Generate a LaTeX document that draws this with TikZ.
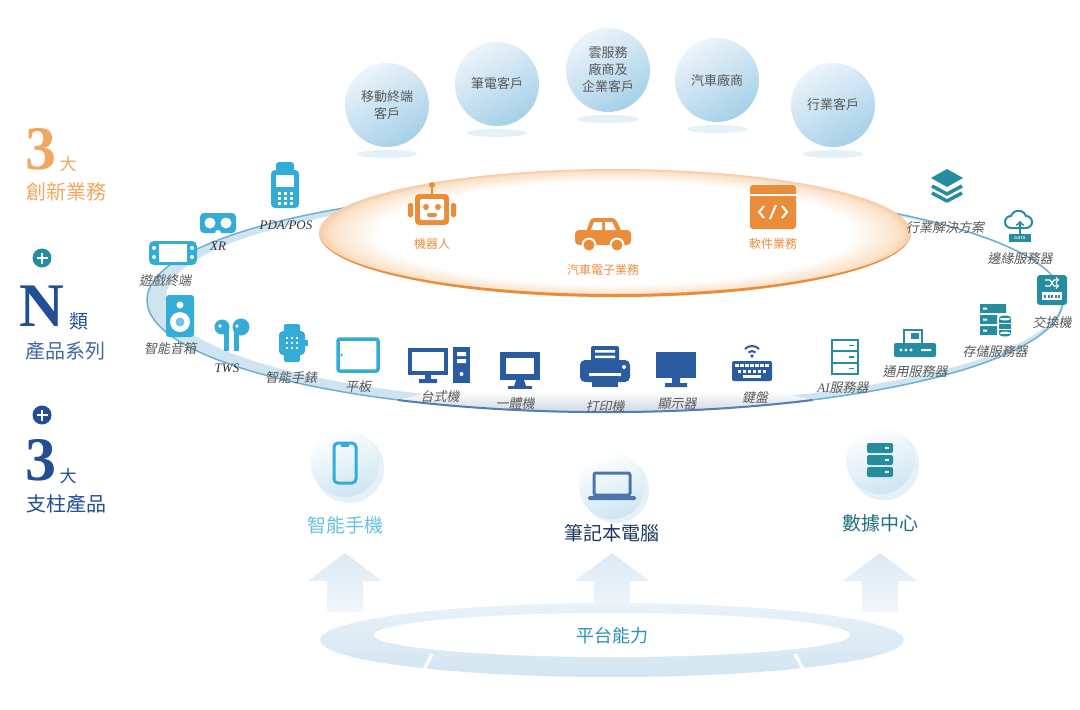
\documentclass[tikz,border=0pt]{standalone}
\usepackage{fontspec}
\setmainfont{Liberation Serif}
\newfontfamily\cjk{Noto Sans CJK TC}
\newfontfamily\cjkit{Noto Sans CJK TC}[FakeSlant=0.2]
\usepackage{xcolor}
\usepackage{tikz}
\usetikzlibrary{shapes.geometric, arrows, positioning}

\definecolor{devcyan}{RGB}{52,172,216}
\definecolor{devnavy}{RGB}{44,92,160}
\definecolor{devteal}{RGB}{38,140,160}
\definecolor{bizorange}{RGB}{234,140,58}
\definecolor{bizpeach}{RGB}{250,226,200}
\definecolor{bigorange}{RGB}{240,168,96}
\definecolor{navytext}{RGB}{34,78,148}
\definecolor{labelgray}{RGB}{88,88,88}
\definecolor{bubtop}{RGB}{236,244,250}
\definecolor{bubbot}{RGB}{166,208,232}
\definecolor{ringblue}{RGB}{110,175,210}
\definecolor{ringpale}{RGB}{206,228,240}
\definecolor{stripgray}{RGB}{196,208,224}
\definecolor{palearrow}{RGB}{220,234,245}
\definecolor{plateblue}{RGB}{210,229,242}

\pgfdeclareradialshading{orangerim}{\pgfpoint{0bp}{0bp}}{color(0bp)=(white); color(20bp)=(white); color(24bp)=(bizpeach); color(25bp)=(bizorange!45); color(50bp)=(bizorange!45)}

\begin{document}
\begin{tikzpicture}[x=1pt, y=-1pt]
\tikzstyle{client} = [circle, minimum size=84pt, inner sep=0pt, top color=bubtop, bottom color=bubbot, shading angle=30, align=center, text=labelgray, font=\cjk\fontsize{13}{17}\selectfont]
\tikzstyle{devlabel} = [font=\cjkit\fontsize{13}{15}\selectfont, text=labelgray, inner sep=1pt]
\tikzstyle{latlabel} = [font=\itshape\fontsize{13}{15}\selectfont, text=labelgray!60!black, inner sep=1pt]
\tikzstyle{bizlabel} = [font=\cjk\fontsize{12}{14}\selectfont, text=bizorange]
\tikzstyle{hub} = [circle, minimum size=68pt, inner sep=0pt, top color=white, bottom color=bubbot!55, shading angle=20]
\tikzstyle{hublabel} = [font=\cjk\fontsize{19}{22}\selectfont]
\tikzstyle{plus} = [circle, minimum size=19pt, inner sep=0pt]
\tikzstyle{bignum} = [font=\bfseries\fontsize{62}{62}\selectfont, inner sep=0pt]
\tikzstyle{bigcap} = [font=\cjk\fontsize{20}{22}\selectfont, inner sep=0pt]

\useasboundingbox (0,0) rectangle (1080,710);
\fill[white] (0,0) rectangle (1080,710);

\fill[ringpale, even odd rule] (605,300) ellipse [x radius=458, y radius=112] (614,298) ellipse [x radius=448, y radius=106];
\draw[ringblue, line width=1.5pt] (605,300) ellipse [x radius=458, y radius=112];
\shade[top color=white, bottom color=stripgray] (398,400) .. controls (430,392) .. (470,391) -- (740,391) .. controls (780,392) .. (812,400) arc[start angle=63.1, end angle=116.9, x radius=458, y radius=112] -- cycle;
\draw[devnavy!80, line width=2pt] (398,400) arc[start angle=116.9, end angle=63.1, x radius=458, y radius=112];

\shade[shading=orangerim] (615,233) ellipse [x radius=296, y radius=64];
\fill[bizorange] (319,233) arc[start angle=180, end angle=0, x radius=296, y radius=64] arc[start angle=0, end angle=180, x radius=296, y radius=61] -- cycle;

\foreach \x/\y in {387/105, 497/84, 608/70, 717/80, 833/105}
  \fill[bubbot!30] (\x,\y+49) ellipse [x radius=30, y radius=4];
\node[client] (cmobile) at (387,105) {移動終端\\客戶};
\node[client] (cnotebook) at (497,84) {筆電客戶};
\node[client] (ccloud) at (608,70) {雲服務\\廠商及\\企業客戶};
\node[client] (cauto) at (717,80) {汽車廠商};
\node[client] (cindustry) at (833,105) {行業客戶};

\begin{scope}[shift={(432,210)}]
\draw[bizorange, line width=2pt] (0,-24)--(0,-15);
\fill[bizorange] (0,-25) circle (3);
\fill[bizorange, rounded corners=4pt] (-17,-16) rectangle (17,15);
\fill[bizorange, rounded corners=1.5pt] (-24,-7) rectangle (-19,7) (19,-7) rectangle (24,7);
\fill[white, rounded corners=2pt] (-12,-11) rectangle (12,10);
\fill[bizorange] (-6,-3) circle (3) (6,-3) circle (3);
\fill[bizorange, rounded corners=1.5pt] (-5,3) rectangle (5,7);
\end{scope}
\begin{scope}[shift={(603,233)}]
\fill[bizorange, rounded corners=3pt] (-17,-1) -- (-12,-15) -- (12,-15) -- (19,-1) -- cycle;
\fill[bizorange, rounded corners=4pt] (-28,-3) rectangle (28,12);
\fill[white] (-12,-3) -- (-9,-11) -- (-1,-11) -- (-1,-3) -- cycle;
\fill[white] (2,-3) -- (2,-11) -- (9,-11) -- (13,-3) -- cycle;
\fill[white] (-14,12) circle (7.5) (14,12) circle (7.5);
\fill[bizorange] (-14,12) circle (5.5) (14,12) circle (5.5);
\end{scope}
\begin{scope}[shift={(773,207)}]
\fill[bizorange, rounded corners=3pt] (-23,-22) rectangle (23,22);
\draw[white, line width=2pt] (-23,-12)--(23,-12);
\draw[white, line width=2pt] (-9,-1)--(-14,5)--(-9,11) (9,-1)--(14,5)--(9,11) (3,-2)--(-3,12);
\end{scope}
\node[bizlabel] (lrobot) at (432,244) {機器人};
\node[bizlabel] (lautoelec) at (603,270) {汽車電子業務};
\node[bizlabel] (lsoftware) at (773,244) {軟件業務};

\begin{scope}[shift={(285,185)}]
\fill[devcyan, rounded corners=3pt] (-9,-23) rectangle (9,-12);
\fill[devcyan, rounded corners=4pt] (-14,-15) rectangle (14,23);
\fill[white] (-9,-10) rectangle (9,2);
\foreach \i in {-6,0,6} \foreach \j in {8,13,18}
  \fill[white] (\i-1.5,\j-1.5) rectangle (\i+1.5,\j+1.5);
\end{scope}
\begin{scope}[shift={(218,223)}]
\fill[devcyan, rounded corners=4pt] (-18,-10) rectangle (18,10);
\fill[white] (-8,0) circle (5.5) (8,0) circle (5.5) (0,10) circle (3);
\end{scope}
\begin{scope}[shift={(173,253)}]
\fill[devcyan, rounded corners=5pt] (-24,-12) rectangle (24,12);
\fill[white] (-14,-9) rectangle (14,9);
\fill[white] (-19,-5) circle (2) (-19,4) circle (2) (19,-5) circle (2) (19,4) circle (2);
\end{scope}
\begin{scope}[shift={(180,316)}]
\fill[devcyan, rounded corners=3pt] (-14,-21) rectangle (14,21);
\fill[white] (0,-11) circle (3.5) (0,6) circle (10);
\fill[devcyan!70] (0,6) circle (4.5);
\end{scope}
\begin{scope}[shift={(232,336)}]
\fill[devcyan] (-10,-9) circle (7.5);
\fill[devcyan] (-8,-9) rectangle (-3,15);
\fill[white] (-12,-10) circle (1.8);
\fill[devcyan] (9,-9) circle (8.5);
\fill[devcyan] (2,-9) rectangle (7,15);
\fill[white] (5,-10) circle (1.8);
\end{scope}
\begin{scope}[shift={(292,343)}]
\fill[devcyan, rounded corners=2pt] (-8,-19) rectangle (8,19);
\fill[devcyan, rounded corners=4pt] (-13,-12) rectangle (13,12);
\fill[devcyan] (13,-3) rectangle (16,3);
\foreach \i in {-5,0,5} \foreach \j in {-5,0,5}
  \fill[white] (\i-1.4,\j-1.4) rectangle (\i+1.4,\j+1.4);
\end{scope}
\begin{scope}[shift={(358,355)}]
\draw[devcyan, line width=3.5pt, rounded corners=2pt] (-20,-16) rectangle (20,16);
\fill[devcyan] (-16.5,0) circle (1.3);
\end{scope}

\begin{scope}[shift={(440,365)}]
\draw[devnavy, line width=4pt] (-30,-15) rectangle (6,8);
\fill[devnavy] (-15,10) rectangle (-9,15) (-21,14) rectangle (-3,18);
\fill[devnavy] (13,-18) rectangle (30,18);
\fill[white] (17,-13) rectangle (26,-9) (17,-6) rectangle (26,-2) (21.5,9) circle (2);
\end{scope}
\begin{scope}[shift={(520,370)}]
\fill[devnavy] (-20,-18) rectangle (20,10);
\fill[white] (-14,-12) rectangle (14,4);
\fill[devnavy] (-4,10) -- (4,10) -- (6,16) -- (-6,16) -- cycle;
\fill[devnavy] (-12,16) rectangle (12,19);
\end{scope}
\begin{scope}[shift={(605,368)}]
\fill[devnavy, rounded corners=2pt] (-14,-22) rectangle (14,-6);
\fill[white] (-10,-18) rectangle (10,-15.5) (-10,-12.5) rectangle (10,-10);
\fill[devnavy, rounded corners=5pt] (-25,-8) rectangle (25,14);
\fill[white] (-16,5) rectangle (16,8) (19,-1) circle (2);
\fill[devnavy] (-13,8) rectangle (13,19);
\end{scope}
\begin{scope}[shift={(676,370)}]
\fill[devnavy] (-20,-18) rectangle (20,8);
\fill[devnavy] (-4,8) rectangle (4,14) (-11,13) rectangle (11,17);
\end{scope}
\begin{scope}[shift={(752,364)}]
\fill[devnavy] (0,-8) circle (1.8);
\draw[devnavy, line width=2pt] (-3.54,-11.54) arc[start angle=225, end angle=315, radius=5];
\draw[devnavy, line width=2pt] (-7.07,-15.07) arc[start angle=225, end angle=315, radius=10];
\fill[devnavy, rounded corners=2pt] (-20,-3) rectangle (20,17);
\foreach \i in {-15,-10,...,15} \fill[white] (\i-1.6,0) rectangle (\i+1.6,3);
\foreach \i in {-12.5,-7.5,...,12.5} \fill[white] (\i-1.6,5.5) rectangle (\i+1.6,8.5);
\fill[white] (-9,11) rectangle (9,13.5);
\end{scope}

\begin{scope}[shift={(845,357)}]
\draw[devteal, line width=2.5pt] (-13,-17) rectangle (13,17) (-13,-6)--(13,-6) (-13,6)--(13,6);
\draw[devteal, line width=1.5pt] (4,-11.5)--(9,-11.5) (4,0)--(9,0) (4,11.5)--(9,11.5);
\end{scope}
\begin{scope}[shift={(915,344)}]
\draw[devteal, line width=2.5pt] (-11,-14) rectangle (7,0);
\fill[devteal] (-4,-11) rectangle (4,-5);
\fill[devteal, rounded corners=2pt] (-21,-1) rectangle (21,13);
\fill[white] (-14,6) circle (1.6) (-9,6) circle (1.6) (-4,6) circle (1.6) (6,5) rectangle (16,7);
\end{scope}
\begin{scope}[shift={(995,320)}]
\fill[devteal] (-15,-16) rectangle (11,-7) (-15,-5) rectangle (2,4) (-15,6) rectangle (2,15);
\fill[white] (-12,-12.5) rectangle (-8,-10.5) (-12,-1.5) rectangle (-8,0.5) (-12,9.5) rectangle (-8,11.5);
\fill[devteal] (4,-2) rectangle (16,14) (10,-2) ellipse [x radius=6, y radius=2.5] (10,14) ellipse [x radius=6, y radius=2.5];
\draw[white, line width=1pt] (4,3.5)--(16,3.5) (4,9)--(16,9);
\end{scope}
\begin{scope}[shift={(1052,290)}]
\fill[devteal, rounded corners=3pt] (-15,-15) rectangle (15,15);
\draw[white, line width=1.2pt, ->] (-7,-10)--(-2,-10)--(2,-4)--(7,-4);
\draw[white, line width=1.2pt, ->] (-7,-4)--(-2,-4)--(2,-10)--(7,-10);
\fill[white] (-10,2) rectangle (10,10);
\foreach \i in {-8,-4.5,...,7} \fill[devteal] (\i,5) rectangle (\i+2,8);
\end{scope}
\begin{scope}[shift={(1020,226)}]
\draw[devteal, line width=2pt] (-9,2) arc[start angle=90, end angle=270, radius=6] arc[start angle=200, end angle=340, radius=8] arc[start angle=270, end angle=450, radius=6] -- cycle;
\draw[devteal, line width=2pt, ->] (0,8)--(0,-5);
\fill[devteal] (-11,8) rectangle (11,16);
\node[font=\sffamily\bfseries\fontsize{4}{4}\selectfont, text=white, inner sep=0pt] (edgedata) at (0,12) {DATA};
\end{scope}
\begin{scope}[shift={(947,187)}]
\fill[devteal] (0,-18) -- (16,-9) -- (0,0) -- (-16,-9) -- cycle;
\draw[devteal, line width=3.5pt, line join=round] (-15,-1)--(0,7)--(15,-1) (-15,6)--(0,14)--(15,6);
\end{scope}

\node[latlabel] (lpos) at (286,225) {PDA/POS};
\node[latlabel] (lxr) at (218,246) {XR};
\node[devlabel] (lgame) at (165,281) {遊戲終端};
\node[devlabel] (lspeaker) at (170,349) {智能音箱};
\node[latlabel] (ltws) at (227,368) {TWS};
\node[devlabel] (lwatch) at (291,378) {智能手錶};
\node[devlabel] (ltablet) at (358,387) {平板};
\node[devlabel] (ldesktop) at (440,397) {台式機};
\node[devlabel] (laio) at (515,404) {一體機};
\node[devlabel] (lprinter) at (605,407) {打印機};
\node[devlabel] (lmonitor) at (677,404) {顯示器};
\node[devlabel] (lkeyboard) at (755,398) {鍵盤};
\node[devlabel] (laiserver) at (843,388) {{\rmfamily\itshape AI}服務器};
\node[devlabel] (lgenserver) at (915,372) {通用服務器};
\node[devlabel] (lstorage) at (995,352) {存儲服務器};
\node[devlabel] (lswitch) at (1052,323) {交換機};
\node[devlabel] (ledge) at (1020,259) {邊緣服務器};
\node[devlabel] (lsolution) at (945,228) {行業解決方案};

\foreach \x in {345,612,880}
  \shade[top color=palearrow, bottom color=palearrow!40] (\x-18,612) -- (\x-18,581) -- (\x-37,581) -- (\x,553) -- (\x+37,581) -- (\x+18,581) -- (\x+18,612) -- cycle;
\shade[top color=plateblue!50, bottom color=plateblue] (612,640) ellipse [x radius=292, y radius=37];
\fill[white] (612,635) ellipse [x radius=238, y radius=22];
\draw[white, line width=3pt] (432,654)--(418,682) (795,654)--(810,682);
\node[font=\cjk\fontsize{18}{20}\selectfont, text=devcyan!85!black] (platform) at (612,636) {平台能力};

\fill[bubbot!30] (349,468) circle (35) (616,490) circle (33) (884,465) circle (35);
\node[hub] (hphone) at (345,463) {};
\node[hub, minimum size=66pt] (hlaptop) at (612,486) {};
\node[hub] (hdata) at (880,460) {};
\begin{scope}[shift={(345,463)}]
\draw[devcyan, line width=3pt, rounded corners=4pt] (-11,-20) rectangle (11,20);
\fill[devcyan] (-4,-20) rectangle (4,-16);
\end{scope}
\begin{scope}[shift={(612,487)}]
\draw[devnavy!85, line width=3pt, rounded corners=2pt] (-18,-14) rectangle (18,8);
\fill[devnavy!85, rounded corners=1.5pt] (-24,9) rectangle (24,13);
\end{scope}
\begin{scope}[shift={(880,460)}]
\foreach \j in {-12,0,12} {
  \fill[devteal, rounded corners=2pt] (-13,\j-5) rectangle (13,\j+5);
  \fill[white] (5,\j-0.8) rectangle (9,\j+0.8);
}
\end{scope}
\node[hublabel, text=devcyan!75] (lphone) at (345,525) {智能手機};
\node[hublabel, text=devnavy!60!black] (llaptop) at (612,533) {筆記本電腦};
\node[hublabel, text=devteal!80!black] (ldata) at (880,523) {數據中心};

\node[bignum, text=bigorange] (innovthree) at (41,149) {3};
\node[font=\cjk\fontsize{17}{17}\selectfont, text=bigorange] (innovda) at (68,164) {大};
\node[bigcap, text=bigorange] (innovcap) at (67,192) {創新業務};
\node[plus, fill=devteal] (plusone) at (42,258) {};
\draw[white, line width=2.2pt] (36.5,258)--(47.5,258) (42,252.5)--(42,263.5);
\node[bignum, text=navytext] (seriesN) at (42,306) {N};
\node[font=\cjk\fontsize{19}{19}\selectfont, text=navytext] (serieslei) at (79,321) {類};
\node[bigcap, text=navytext!85] (seriescap) at (65,351) {產品系列};
\node[plus, fill=navytext] (plustwo) at (42,415) {};
\draw[white, line width=2.2pt] (36.5,415)--(47.5,415) (42,409.5)--(42,420.5);
\node[bignum, text=navytext] (pillarthree) at (41,460) {3};
\node[font=\cjk\fontsize{17}{17}\selectfont, text=navytext] (pillarda) at (68,476) {大};
\node[bigcap, text=navytext] (pillarcap) at (67,504) {支柱產品};
\end{tikzpicture}
\end{document}
